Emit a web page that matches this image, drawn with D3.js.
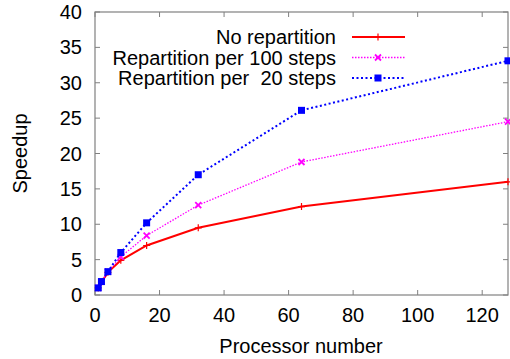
<!DOCTYPE html>
<html>
<head>
<meta charset="utf-8">
<script src="https://cdn.jsdelivr.net/npm/d3@7"></script>
<style>
  body { margin: 0; background: #fff; }
  text { font-family: "Liberation Sans", Arial, sans-serif; }
</style>
</head>
<body>
<script>
// data
const procs = [1, 2, 4, 8, 16, 32, 64, 128]
const noRepart = [1, 1.8, 3.2, 4.9, 7.0, 9.5, 12.5, 16.0]
const repart100 = [1, 1.9, 3.3, 5.4, 8.4, 12.7, 18.8, 24.5]
const repart20 = [1, 1.9, 3.3, 6.0, 10.2, 17.0, 26.1, 33.1]
const seriesNames = ['No repartition', 'Repartition per 100 steps', 'Repartition per  20 steps']
const xTicks = [0, 20, 40, 60, 80, 100, 120]
const yTicks = [0, 5, 10, 15, 20, 25, 30, 35, 40]

const w = 510, h = 359
const m = {left: 95, right: 2, top: 12, bottom: 64}
const fs = 20

const svg = d3.select('body').append('svg').attr('width', w).attr('height', h)

const x = d3.scaleLinear().domain([0, 128]).range([m.left, w - m.right])
const y = d3.scaleLinear().domain([0, 40]).range([h - m.bottom, m.top])

const styles = [
  {color: '#ff0000', width: 2, dash: null, marker: 'plus'},
  {color: '#ff00ff', width: 1.3, dash: '1.5,1.5', marker: 'cross'},
  {color: '#0000ff', width: 2, dash: '2,2.5', marker: 'square'}
]
const allSeries = [noRepart, repart100, repart20]

// ticks on all four sides, pointing in
const tickLen = 5
const frame = svg.append('g').attr('stroke', '#808080').attr('stroke-width', 1)
xTicks.forEach(t => {
  frame.append('line').attr('x1', x(t)).attr('x2', x(t)).attr('y1', y(0)).attr('y2', y(0) - tickLen)
  frame.append('line').attr('x1', x(t)).attr('x2', x(t)).attr('y1', y(40)).attr('y2', y(40) + tickLen)
})
yTicks.forEach(t => {
  frame.append('line').attr('x1', x(0)).attr('x2', x(0) + tickLen).attr('y1', y(t)).attr('y2', y(t))
  frame.append('line').attr('x1', x(128)).attr('x2', x(128) - tickLen).attr('y1', y(t)).attr('y2', y(t))
})
svg.append('rect')
  .attr('x', x(0)).attr('y', y(40))
  .attr('width', x(128) - x(0)).attr('height', y(0) - y(40))
  .attr('fill', 'none').attr('stroke', '#808080').attr('stroke-width', 1.2)

// tick labels
svg.selectAll('.xl').data(xTicks).enter().append('text')
  .attr('x', d => x(d)).attr('y', y(0) + 27)
  .attr('text-anchor', 'middle').attr('font-size', fs).text(d => d)
svg.selectAll('.yl').data(yTicks).enter().append('text')
  .attr('x', x(0) - 13).attr('y', d => y(d) + 7)
  .attr('text-anchor', 'end').attr('font-size', fs).text(d => d)

// axis titles
svg.append('text').attr('x', 301).attr('y', 353)
  .attr('text-anchor', 'middle').attr('font-size', fs).text('Processor number')
svg.append('text').attr('transform', `translate(27,${(y(0) + y(40)) / 2}) rotate(-90)`)
  .attr('text-anchor', 'middle').attr('font-size', fs).text('Speedup')

const line = d3.line().x((d, i) => x(procs[i])).y(d => y(d))

function drawMarker(g, type, cx, cy, color) {
  if (type === 'plus') {
    g.append('path').attr('d', `M${cx - 3.5},${cy}H${cx + 3.5}M${cx},${cy - 3.5}V${cy + 3.5}`)
      .attr('stroke', color).attr('stroke-width', 1.2).attr('fill', 'none')
  } else if (type === 'cross') {
    g.append('path').attr('d', `M${cx - 3},${cy - 3}L${cx + 3},${cy + 3}M${cx - 3},${cy + 3}L${cx + 3},${cy - 3}`)
      .attr('stroke', color).attr('stroke-width', 1.8).attr('fill', 'none')
  } else {
    g.append('rect').attr('x', cx - 3.5).attr('y', cy - 3.5).attr('width', 7).attr('height', 7)
      .attr('fill', color)
  }
}

const plot = svg.append('g')
allSeries.forEach((vals, k) => {
  const s = styles[k]
  plot.append('path').datum(vals).attr('d', line)
    .attr('fill', 'none').attr('stroke', s.color).attr('stroke-width', s.width)
    .attr('stroke-dasharray', s.dash)
  vals.forEach((v, i) => drawMarker(plot, s.marker, x(procs[i]), y(v), s.color))
})

// legend
const legend = svg.append('g')
seriesNames.forEach((name, k) => {
  const s = styles[k]
  const ly = 37 + k * 20.5
  legend.append('text').attr('x', 336).attr('y', ly + 7)
    .attr('text-anchor', 'end').attr('font-size', fs)
    .style('white-space', 'pre').text(name)
  legend.append('line').attr('x1', 352).attr('x2', 405).attr('y1', ly).attr('y2', ly)
    .attr('stroke', s.color).attr('stroke-width', s.width).attr('stroke-dasharray', s.dash)
  drawMarker(legend, s.marker, 378, ly, s.color)
})
</script>
</body>
</html>
